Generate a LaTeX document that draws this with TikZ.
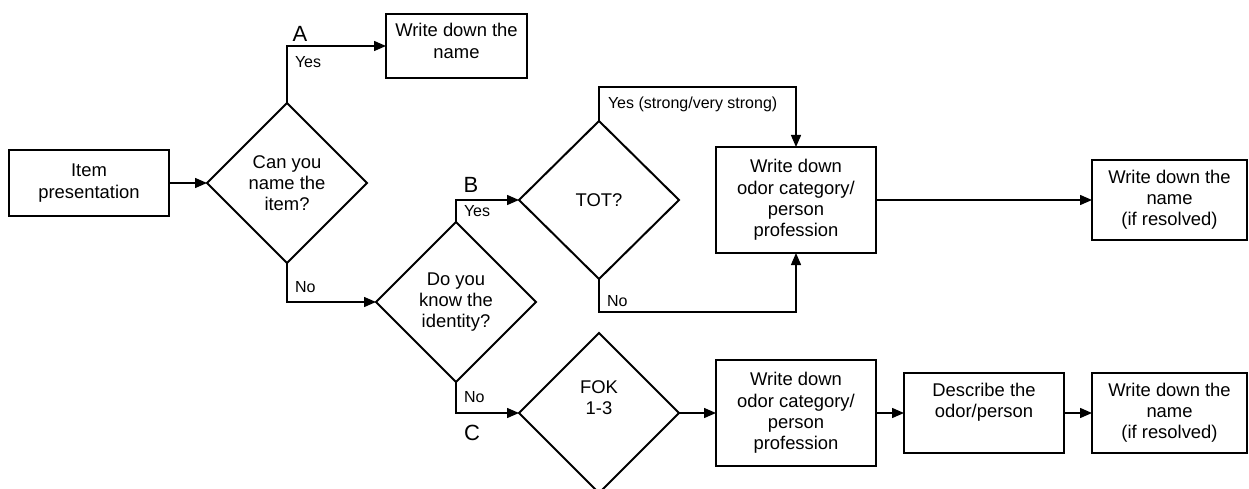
\documentclass[tikz,border=0pt]{standalone}
\usepackage{fontspec}
\setmainfont{Liberation Sans}
\usetikzlibrary{shapes.geometric,arrows.meta}
\begin{document}
\begin{tikzpicture}[x=1pt,y=-1pt,
  every node/.style={inner sep=0pt, outer sep=0pt},
  txt/.style={font=\fontsize{18.4}{21.2}\selectfont, align=center},
  small/.style={font=\fontsize{16}{19}\selectfont, anchor=west},
  letter/.style={font=\fontsize{22}{24}\selectfont},
  box/.style={draw, line width=2pt, txt},
  dia/.style={draw, diamond, line width=2pt, txt, minimum width=160pt, minimum height=160pt},
  conn/.style={line width=1.4pt, -{Triangle[length=12pt,width=10pt]}},
  line/.style={line width=1.4pt}
]
\useasboundingbox (0,0) rectangle (1249,489);
% nodes
\node[box, minimum width=160pt, minimum height=65pt] (item) at (89,183) {Item\\presentation};
\node[dia] (d1) at (287,183) {Can you\\name the\\item?};
\node[box, minimum width=141pt, minimum height=64pt] (name1) at (456.5,46) {};
\node[txt] (name1t) at (456.5,41) {Write down the\\name};
\node[dia] (d2) at (456,302) {Do you\\know the\\identity?};
\node[dia, minimum height=158pt] (tot) at (599,200) {TOT?};
\node[box, minimum width=160pt, minimum height=106pt] (cat1) at (796,200) {Write down\\odor category/\\person\\profession};
\node[box, minimum width=155pt, minimum height=80pt] (res1) at (1169.5,200) {Write down the\\name\\(if resolved)};
\node[dia] (fok) at (599,413) {};
\node[txt] (fokt) at (599,398) {FOK\\1-3};
\node[box, minimum width=160pt, minimum height=106pt] (cat2) at (796,413) {Write down\\odor category/\\person\\profession};
\node[box, minimum width=160pt, minimum height=80pt] (desc) at (984,413) {};
\node[txt] (desct) at (984,402) {Describe the\\odor/person};
\node[box, minimum width=155pt, minimum height=80pt] (res2) at (1169.5,413) {Write down the\\name\\(if resolved)};
% helper coordinates
\coordinate (tottop) at (599,87);
\coordinate (totbot) at (599,312);
% connectors
\draw[conn] (item.east) -- (d1.west);
\draw[conn] (d1.north) |- (name1.west);
\draw[conn] (d1.south) |- (d2.west);
\draw[conn] (d2.north) |- (tot.west);
\draw[conn] (tot.north) -- (tottop) -| (cat1.north);
\draw[conn] (tot.south) -- (totbot) -| (cat1.south);
\draw[conn] (cat1.east) -- (res1.west);
\draw[conn] (d2.south) |- (fok.west);
\draw[conn] (fok.east) -- (cat2.west);
\draw[conn] (cat2.east) -- (desc.west);
\draw[conn] (desc.east) -- (res2.west);
% labels
\node[letter] (la) at (300,34) {A};
\node[small] (ly1) at (295,62) {Yes};
\node[small] (ln1) at (295,287) {No};
\node[letter] (lb) at (471,185) {B};
\node[small] (ly2) at (464,211) {Yes};
\node[small] (ly3) at (608,104) {Yes (strong/very strong)};
\node[small] (ln3) at (607,301) {No};
\node[small] (ln2) at (464,397) {No};
\node[letter] (lc) at (472,433) {C};
\end{tikzpicture}
\end{document}
